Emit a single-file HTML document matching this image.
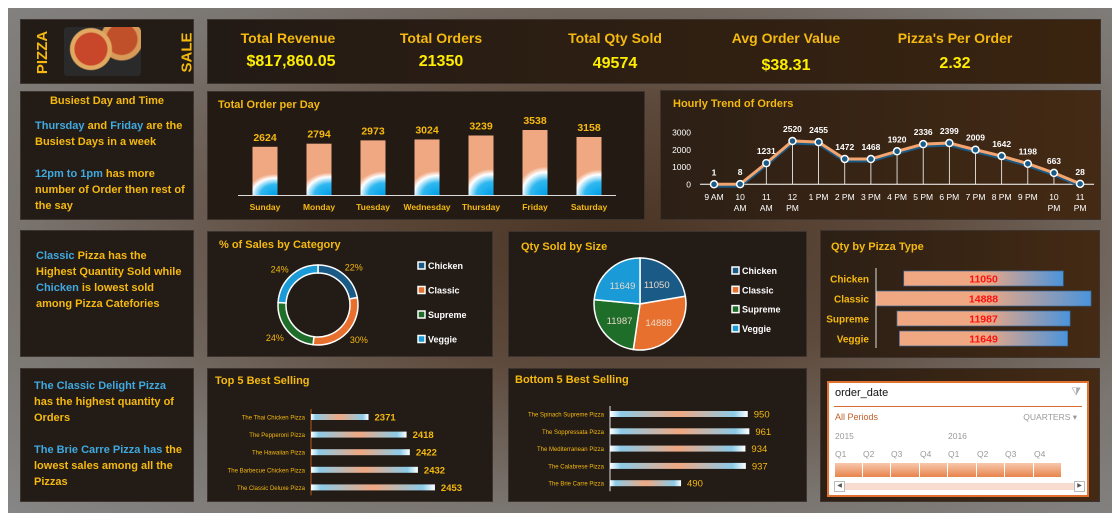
<!DOCTYPE html>
<html><head><meta charset="utf-8">
<style>
*{box-sizing:border-box;margin:0;padding:0}
body{width:1120px;height:517px;background:#fff;position:relative;overflow:hidden;font-family:"Liberation Sans Narrow","Liberation Sans",sans-serif}
#bg{position:absolute;left:8px;top:8px;width:1104px;height:505px;background:radial-gradient(ellipse at 55% 45%,#4a3424 0%,#5e4a3c 35%,#7a7570 70%,#868686 100%)}
.p{position:absolute;background:#231b16;border:1px solid #3d3430}
.br{background:linear-gradient(90deg,#2c1f15,#442a14)}
.t{position:absolute;color:#f5b90f;font-weight:bold;font-size:11px;white-space:nowrap}
.y{color:#f5b90f}.b{color:#3fa9e0}
.txt{position:absolute;font-weight:bold;font-size:11px;line-height:16px;color:#f5b90f}
.kl{position:absolute;top:10px;color:#f5b90f;font-weight:bold;font-size:14px;transform:translateX(-50%);white-space:nowrap}
.kv{position:absolute;top:33px;color:#ffee00;font-weight:bold;font-size:16px;transform:translateX(-50%);white-space:nowrap;font-family:"Liberation Sans",sans-serif}
svg text{font-family:"Liberation Sans Narrow","Liberation Sans",sans-serif}
</style></head><body>
<div id="bg"></div>

<div class="p" style="left:20px;top:19px;width:174px;height:65px">
 <div style="position:absolute;left:0px;top:24px;transform:rotate(-90deg);color:#f5b90f;font-weight:bold;font-size:15px">PIZZA</div>
 <div style="position:absolute;left:43px;top:7px;width:77px;height:49px;border-radius:3px;background:radial-gradient(circle at 35% 45%,#c8462a 0 28%,#e0a860 30% 36%,transparent 38%),radial-gradient(circle at 75% 25%,#c0502a 0 22%,#d89a58 24% 30%,transparent 32%),#2a2a2a"></div>
 <div style="position:absolute;left:146px;top:24px;transform:rotate(-90deg);color:#f5b90f;font-weight:bold;font-size:15px">SALE</div>
</div>

<div class="p" style="left:207px;top:19px;width:894px;height:65px;background:linear-gradient(90deg,#221a15,#3a2410)">
 <div class="kl" style="left:80px">Total Revenue</div>
 <div class="kv" style="left:83px">$817,860.05</div>
 <div class="kl" style="left:233px">Total Orders</div>
 <div class="kv" style="left:233px">21350</div>
 <div class="kl" style="left:407px">Total Qty Sold</div>
 <div class="kv" style="left:407px;top:35px">49574</div>
 <div class="kl" style="left:578px">Avg Order Value</div>
 <div class="kv" style="left:578px;top:37px">$38.31</div>
 <div class="kl" style="left:747px">Pizza's Per Order</div>
 <div class="kv" style="left:747px;top:35px">2.32</div>
</div>

<div class="p" style="left:20px;top:91px;width:174px;height:129px">
 <div class="t" style="left:0;width:172px;text-align:center;top:3px;font-size:11px">Busiest Day and Time</div>
 <div class="txt" style="left:14px;top:26px;width:158px"><span class="b">Thursday</span> and <span class="b">Friday</span> are the Busiest Days in a week<br><br><span class="b">12pm to 1pm</span> has more number of Order then rest of the say</div>
</div>

<div class="p" style="left:207px;top:91px;width:438px;height:129px;background:#241a14">
 <div class="t" style="left:10px;top:7px">Total Order per Day</div>
</div>
<div class="p br" style="left:660px;top:90px;width:441px;height:130px">
 <div class="t" style="left:12px;top:7px">Hourly Trend of Orders</div>
</div>

<div class="p" style="left:20px;top:230px;width:174px;height:127px">
 <div class="txt" style="left:15px;top:17px;width:150px"><span class="b">Classic</span> Pizza has the Highest Quantity Sold while <span class="b">Chicken</span> is lowest sold among Pizza Catefories</div>
</div>
<div class="p" style="left:207px;top:231px;width:286px;height:126px">
 <div class="t" style="left:11px;top:7px">% of Sales by Category</div>
</div>
<div class="p" style="left:508px;top:231px;width:299px;height:126px">
 <div class="t" style="left:12px;top:9px">Qty Sold by Size</div>
</div>
<div class="p br" style="left:820px;top:230px;width:280px;height:128px">
 <div class="t" style="left:10px;top:10px">Qty by Pizza Type</div>
</div>

<div class="p" style="left:20px;top:368px;width:174px;height:134px">
 <div class="txt" style="left:13px;top:9px;width:150px"><span class="b">The Classic Delight Pizza</span> has the highest quantity of Orders<br><br><span class="b">The Brie Carre Pizza has</span> the lowest sales among all the Pizzas</div>
</div>
<div class="p" style="left:207px;top:368px;width:286px;height:134px">
 <div class="t" style="left:7px;top:6px">Top 5 Best Selling</div>
</div>
<div class="p" style="left:508px;top:368px;width:299px;height:134px">
 <div class="t" style="left:6px;top:5px">Bottom 5 Best Selling</div>
</div>
<div class="p br" style="left:820px;top:368px;width:280px;height:134px">
 <div style="position:absolute;left:6px;top:12px;width:262px;height:116px;background:#fff;border:2px solid #e2702e">
  <div style="position:absolute;left:6px;top:4px;font-size:11px;color:#111;font-family:'Liberation Sans',sans-serif">order_date</div>
  <div style="position:absolute;right:6px;top:3px;color:#aaa;font-size:11px">⧩</div>
  <div style="position:absolute;left:5px;right:5px;top:23px;height:1px;background:#d86a30"></div>
  <div style="position:absolute;left:6px;top:29px;font-size:9px;color:#c0602a;font-family:'Liberation Sans',sans-serif">All Periods</div>
  <div style="position:absolute;right:10px;top:29px;font-size:8.5px;color:#999;font-family:'Liberation Sans',sans-serif">QUARTERS ▾</div>
  <div style="position:absolute;left:6px;top:48px;font-size:8.5px;color:#999">2015</div>
  <div style="position:absolute;left:119px;top:48px;font-size:8.5px;color:#999">2016</div>
  <div id="quarters"></div>
  <div style="position:absolute;left:6px;top:100px;width:249px;height:7px;background:#f8dccf"></div>
  <div style="position:absolute;left:5px;top:98px;width:11px;height:11px;border:1px solid #bbb;background:#fff;font-size:6px;color:#555;text-align:center;line-height:9px">◀</div>
  <div style="position:absolute;left:245px;top:98px;width:11px;height:11px;border:1px solid #bbb;background:#fff;font-size:6px;color:#555;text-align:center;line-height:9px">▶</div>
 </div>
</div>

<svg id="ch" width="1120" height="517" style="position:absolute;left:0;top:0">
<defs>
 <radialGradient id="dayg" cx="0.9" cy="1" r="1.15" gradientTransform="translate(0,0.62) scale(1,0.38)">
  <stop offset="0" stop-color="#00a0e8"/><stop offset="0.5" stop-color="#30b8f0"/><stop offset="0.8" stop-color="#fff"/><stop offset="1" stop-color="#f0a882"/>
 </radialGradient>
 <linearGradient id="hbar" x1="0" x2="1"><stop offset="0" stop-color="#fff"/><stop offset="0.08" stop-color="#8ccbe8"/><stop offset="0.5" stop-color="#f0a882"/><stop offset="0.9" stop-color="#8ccbe8"/><stop offset="1" stop-color="#fff"/></linearGradient>
 <linearGradient id="tbar" x1="0" x2="1"><stop offset="0" stop-color="#f0a882"/><stop offset="0.5" stop-color="#f0a882"/><stop offset="1" stop-color="#4a94dc"/></linearGradient>
</defs>
</svg>

<script>
const days=["Sunday","Monday","Tuesday","Wednesday","Thursday","Friday","Saturday"];
const dayOrders=[2624,2794,2973,3024,3239,3538,3158];
const hours=["9 AM","10 AM","11 AM","12 PM","1 PM","2 PM","3 PM","4 PM","5 PM","6 PM","7 PM","8 PM","9 PM","10 PM","11 PM"];
const hourOrders=[1,8,1231,2520,2455,1472,1468,1920,2336,2399,2009,1642,1198,663,28];
const hourTicks=[0,1000,2000,3000];
const categories=["Chicken","Classic","Supreme","Veggie"];
const categoryPct=[22,30,24,24];
const catColors=["#1a5a86","#e8702e","#1e6e2a","#1a9ad6"];
const sizeQty=[11050,14888,11987,11649];
const typeQty=[11050,14888,11987,11649];
const top5Names=["The Thai Chicken Pizza","The Pepperoni Pizza","The Hawaiian Pizza","The Barbecue Chicken Pizza","The Classic Deluxe Pizza"];
const top5Qty=[2371,2418,2422,2432,2453];
const bot5Names=["The Spinach Supreme Pizza","The Soppressata Pizza","The Mediterranean Pizza","The Calabrese Pizza","The Brie Carre Pizza"];
const bot5Qty=[950,961,934,937,490];
const quarterLabels=["Q1","Q2","Q3","Q4","Q1","Q2","Q3","Q4"];

const svg=document.getElementById('ch');const NS='http://www.w3.org/2000/svg';
function mk(t,a,p){const e=document.createElementNS(NS,t);for(const k in a)e.setAttribute(k,a[k]);(p||svg).appendChild(e);return e;}
function tx(x,y,s,a){const e=mk('text',Object.assign({x:x,y:y},a));e.textContent=s;return e;}

const dx=i=>265+i*54, dy=v=>195-v*0.01837;
const dAx=mk('line',{x1:238,x2:616,y1:195.5,y2:195.5,stroke:'#ddd','stroke-width':1});


days.forEach((d,i)=>{
 const r=mk('rect',{x:dx(i)-12.5,y:dy(dayOrders[i]),width:25,height:195-dy(dayOrders[i]),fill:'url(#dayg)'});
 
 
 const v=tx(dx(i),dy(dayOrders[i])-6,dayOrders[i],{fill:'#f5b90f','font-size':10.5,'font-weight':'bold','text-anchor':'middle'});
 
 
 const l=tx(dx(i),210,d,{fill:'#f5b90f','font-size':8.5,'font-weight':'bold','text-anchor':'middle'});
 
 
});

const hx=i=>714+i*26.15, hy=v=>184.3-v*51.6/3000;
hourTicks.forEach(t=>{const e=tx(691,hy(t)+3,t,{fill:'#fff','font-size':8.5,'text-anchor':'end'});
 
 });
const hAx=mk('line',{x1:700,x2:1094,y1:hy(0),y2:hy(0),stroke:'#fff','stroke-width':1});


hourOrders.forEach((v,i)=>{const d=mk('line',{x1:hx(i),x2:hx(i),y1:hy(v),y2:hy(0),stroke:'#fff','stroke-width':0.8});
 
 });
const sh=mk('polyline',{points:hourOrders.map((v,i)=>hx(i)+','+(hy(v)+2)).join(' '),fill:'none',stroke:'#1a5a86','stroke-width':3});


const ln=mk('polyline',{points:hourOrders.map((v,i)=>hx(i)+','+hy(v)).join(' '),fill:'none',stroke:'#f4a46e','stroke-width':3});


hourOrders.forEach((v,i)=>{
 const c=mk('circle',{cx:hx(i),cy:hy(v),r:3.5,fill:'#1a5a86',stroke:'#fff','stroke-width':1.5});
 
 
 const t=tx(hx(i),hy(v)-9,v,{fill:'#fff','font-size':8.5,'font-weight':'bold','text-anchor':'middle'});
 
 
 const p=hours[i].split(' ');
 if(p[0].length>=2){
  const a=tx(hx(i),200,p[0],{fill:'#fff','font-size':8.5,'text-anchor':'middle'});
  
  
  const b=tx(hx(i),211,p[1],{fill:'#fff','font-size':8.5,'text-anchor':'middle'});
  
  
 } else {
  const a=tx(hx(i),200,hours[i],{fill:'#fff','font-size':8.5,'text-anchor':'middle'});
  
  
 }
});

function arc(cx,cy,r,ri,a0,a1){
 const p=(r,a)=>[cx+r*Math.sin(a),cy-r*Math.cos(a)];const lg=(a1-a0)>Math.PI?1:0;
 const [x0,y0]=p(r,a0),[x1,y1]=p(r,a1);
 if(!ri)return `M${cx},${cy}L${x0},${y0}A${r},${r} 0 ${lg} 1 ${x1},${y1}Z`;
 const [x2,y2]=p(ri,a1),[x3,y3]=p(ri,a0);
 return `M${x0},${y0}A${r},${r} 0 ${lg} 1 ${x1},${y1}L${x2},${y2}A${ri},${ri} 0 ${lg} 0 ${x3},${y3}Z`;
}
{const tot=categoryPct.reduce((a,b)=>a+b,0);let a=0;const cx=318,cy=305;
 categoryPct.forEach((v,i)=>{const a1=a+v/tot*2*Math.PI;
  const s=mk('path',{d:arc(cx,cy,40,32,a,a1),fill:catColors[i],stroke:'#fff','stroke-width':1.5});
  
  
  const am=(a+a1)/2;const t=tx(cx+56*Math.sin(am),cy-50*Math.cos(am)+4,v+'%',{fill:'#f5b90f','font-size':9,'text-anchor':'middle'});
  
  
  a=a1;});
}
{const tot=sizeQty.reduce((a,b)=>a+b,0);let a=0;const cx=640,cy=304,r=46;
 sizeQty.forEach((v,i)=>{const a1=a+v/tot*2*Math.PI;
  const s=mk('path',{d:arc(cx,cy,r,0,a,a1),fill:catColors[i],stroke:'#fff','stroke-width':1.5});
  
  
  const am=(a+a1)/2;const t=tx(cx+26*Math.sin(am),cy-26*Math.cos(am)+4,v,{fill:'#e8d8c8','font-size':9.5,'text-anchor':'middle'});
  
  
  a=a1;});
}
function legend(x,y0,gap,prefix){categories.forEach((c,i)=>{
 const r=mk('rect',{x:x,y:y0+i*gap-6,width:7,height:7,fill:catColors[i],stroke:'#fff','stroke-width':1.5});
 
 
 const t=tx(x+10,y0+i*gap+1,c,{fill:'#fff','font-size':9,'font-weight':'bold'});
 
 });}
legend(418,268,24.5,'category');legend(732,273,19.3,'size');

const tmax=Math.max(...typeQty);
categories.forEach((c,i)=>{const w=typeQty[i]/tmax*215,y=271+i*20;
 const r=mk('rect',{x:983.5-w/2,y:y,width:w,height:15,fill:'url(#tbar)',stroke:'#3a6a9a','stroke-width':0.7});
 
 
 const v=tx(983.5,y+11.5,typeQty[i],{fill:'#ff1010','font-size':10.5,'font-weight':'bold','text-anchor':'middle'});
 
 
 const l=tx(869,y+11.5,c,{fill:'#f5b90f','font-size':10,'font-weight':'bold','text-anchor':'end'});
 
 });
const tAx=mk('line',{x1:876,x2:876,y1:268,y2:348,stroke:'#ddd','stroke-width':1});



function hbars(names,vals,ax,min,scale,y0,gap,prefix,vsize){
 const a=mk('line',{x1:ax,x2:ax,y1:y0-8,y2:y0+4*gap+8,stroke:prefix==='top5'?'#b05a20':'#ddd','stroke-width':1});
 
 
 names.forEach((n,i)=>{const y=y0+i*gap,w=(vals[i]-min)*scale;
  const r=mk('rect',{x:ax,y:y-3,width:w,height:6,fill:'url(#hbar)'});
  
  
  const l=tx(ax-6,y+2.5,n,{fill:'#f5b90f','font-size':6,'text-anchor':'end'});
  
  
  const v=tx(ax+w+6,y+3.5,vals[i],{fill:'#f5b90f','font-size':vsize,'font-weight':prefix==='top5'?'bold':'normal'});
  
  });}
hbars(top5Names,top5Qty,311,2300,0.81,417,17.6,'top5',9.5);
hbars(bot5Names,bot5Qty,610,0,0.145,414,17.3,'bottom5',9.5);

const q=document.getElementById('quarters');
quarterLabels.forEach((s,i)=>{const xs=[6,34,62,91,119,148,176,205][i],w=[28,28,29,28,29,28,29,28][i];
 const l=document.createElement('div');l.textContent=s;l.style.cssText=`position:absolute;left:${xs}px;top:66px;font-size:8.5px;color:#999`;
 
 
 q.appendChild(l);
 const b=document.createElement('div');b.style.cssText=`position:absolute;left:${xs}px;top:80px;width:${w-1}px;height:14px;background:linear-gradient(#f8c8ac,#e8844c)`;
 
 
 q.appendChild(b);});
</script>
</body></html>
